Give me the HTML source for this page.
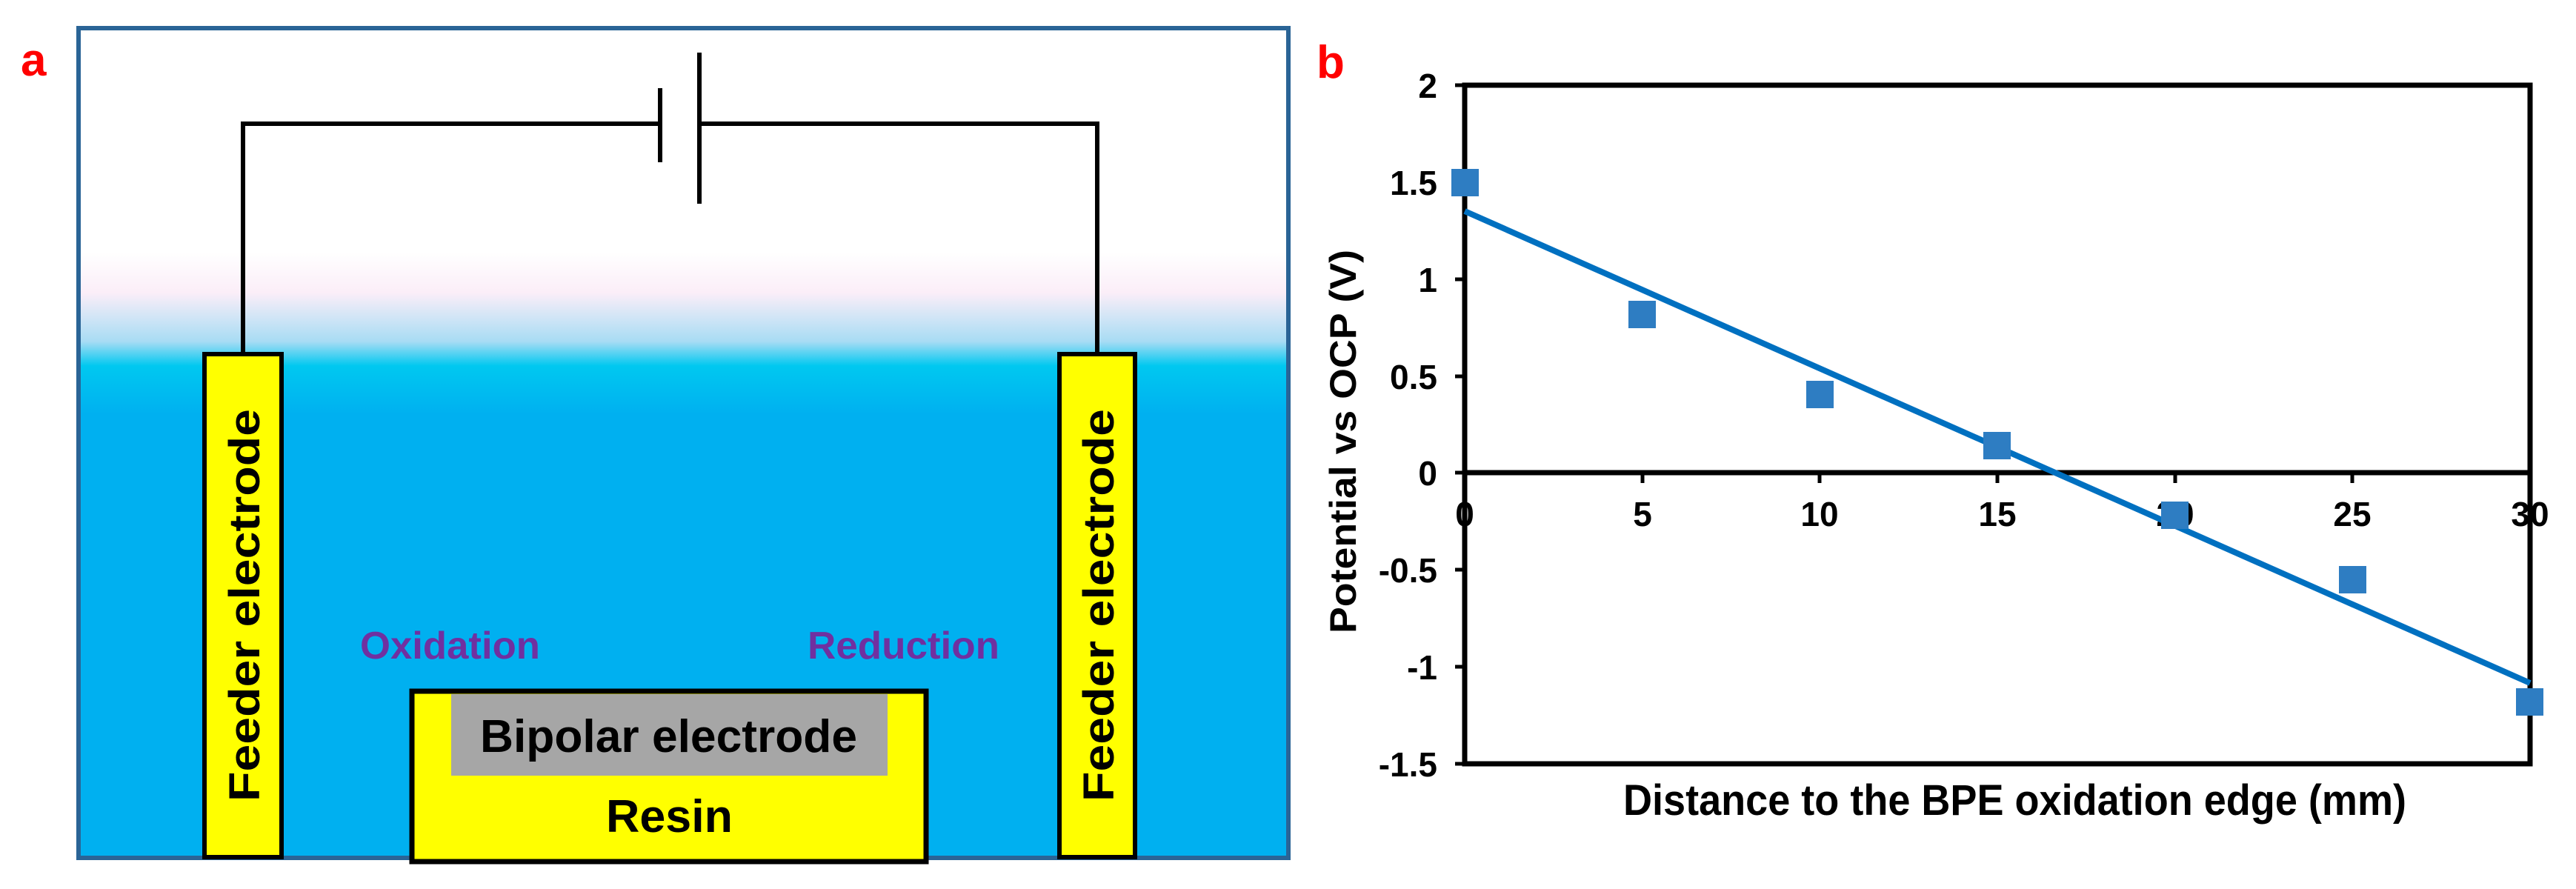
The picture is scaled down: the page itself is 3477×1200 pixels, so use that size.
<!DOCTYPE html>
<html><head><meta charset="utf-8"><style>
html,body{margin:0;padding:0;background:#fff;}
svg{display:block;}
text{font-family:"Liberation Sans",sans-serif;font-weight:bold;}
.n{font-family:"Liberation Sans Narrow","Liberation Sans",sans-serif;}
</style></head><body>
<svg width="3477" height="1200" viewBox="0 0 3477 1200" xmlns="http://www.w3.org/2000/svg">
<defs>
<linearGradient id="w" gradientUnits="userSpaceOnUse" x1="0" y1="340" x2="0" y2="560">
<stop offset="0" stop-color="#ffffff"/>
<stop offset="0.25" stop-color="#fbeef8"/>
<stop offset="0.55" stop-color="#a8dcf4"/>
<stop offset="0.7" stop-color="#00c8f0"/>
<stop offset="1" stop-color="#00b0f0"/>
</linearGradient>
</defs>
<!-- panel a -->
<rect x="106" y="38" width="1633" height="1120" fill="url(#w)" stroke="#2a6496" stroke-width="6"/>
<text x="28" y="102" font-size="62" fill="#ff0000">a</text>
<polyline points="328,478 328,167 891,167" fill="none" stroke="#000" stroke-width="6"/>
<polyline points="944,167 1481,167 1481,478" fill="none" stroke="#000" stroke-width="6"/>
<line x1="891" y1="119" x2="891" y2="219" stroke="#000" stroke-width="6"/>
<line x1="944" y1="71" x2="944" y2="275" stroke="#000" stroke-width="6"/>
<rect x="276" y="478" width="104" height="679" fill="#ffff00" stroke="#000" stroke-width="6"/>
<rect x="1430" y="478" width="102" height="679" fill="#ffff00" stroke="#000" stroke-width="6"/>
<text transform="translate(350,1082) rotate(-90)" font-size="58" textLength="530" lengthAdjust="spacingAndGlyphs" fill="#000">Feeder electrode</text>
<text transform="translate(1503,1082) rotate(-90)" font-size="58" textLength="530" lengthAdjust="spacingAndGlyphs" fill="#000">Feeder electrode</text>
<text class="n" x="486" y="889" font-size="52" textLength="243" lengthAdjust="spacingAndGlyphs" fill="#7030a0">Oxidation</text>
<text class="n" x="1090" y="889" font-size="52" textLength="259" lengthAdjust="spacingAndGlyphs" fill="#7030a0">Reduction</text>
<rect x="556" y="933" width="694" height="230" fill="#ffff00" stroke="#000" stroke-width="7"/>
<rect x="609" y="937" width="589" height="110" fill="#a6a6a6"/>
<text class="n" x="648" y="1015" font-size="62" textLength="509" lengthAdjust="spacingAndGlyphs" fill="#000">Bipolar electrode</text>
<text class="n" x="818" y="1123" font-size="62" textLength="171" lengthAdjust="spacingAndGlyphs" fill="#000">Resin</text>
<!-- panel b -->
<text x="1777" y="105" font-size="62" fill="#ff0000">b</text>
<g stroke="#000" stroke-width="7" fill="none">
<rect x="1977" y="115" width="1438" height="916"/>
<line x1="1977" y1="638" x2="3415" y2="638"/>
</g>
<g stroke="#000" stroke-width="5">
<line x1="1964" y1="115" x2="1977" y2="115"/>
<line x1="1964" y1="246" x2="1977" y2="246"/>
<line x1="1964" y1="377" x2="1977" y2="377"/>
<line x1="1964" y1="508" x2="1977" y2="508"/>
<line x1="1964" y1="638" x2="1977" y2="638"/>
<line x1="1964" y1="769" x2="1977" y2="769"/>
<line x1="1964" y1="900" x2="1977" y2="900"/>
<line x1="1964" y1="1031" x2="1977" y2="1031"/>
<line x1="2217" y1="638" x2="2217" y2="652"/>
<line x1="2456" y1="638" x2="2456" y2="652"/>
<line x1="2696" y1="638" x2="2696" y2="652"/>
<line x1="2936" y1="638" x2="2936" y2="652"/>
<line x1="3175" y1="638" x2="3175" y2="652"/>
</g>
<g font-size="46" text-anchor="end" fill="#000">
<text class="n" x="1940" y="132">2</text>
<text class="n" x="1940" y="263">1.5</text>
<text class="n" x="1940" y="394">1</text>
<text class="n" x="1940" y="525">0.5</text>
<text class="n" x="1940" y="655">0</text>
<text class="n" x="1940" y="786">-0.5</text>
<text class="n" x="1940" y="917">-1</text>
<text class="n" x="1940" y="1048">-1.5</text>
</g>
<g font-size="46" text-anchor="middle" fill="#000">
<text class="n" x="1977" y="710">0</text>
<text class="n" x="2217" y="710">5</text>
<text class="n" x="2456" y="710">10</text>
<text class="n" x="2696" y="710">15</text>
<text class="n" x="2936" y="710">20</text>
<text class="n" x="3175" y="710">25</text>
<text class="n" x="3415" y="710">30</text>
</g>
<line x1="1977" y1="285" x2="3415" y2="922" stroke="#0070c0" stroke-width="8"/>
<g fill="#2e7dc2">
<rect x="1959" y="228" width="37" height="37"/>
<rect x="2198" y="406" width="37" height="37"/>
<rect x="2438" y="514" width="37" height="37"/>
<rect x="2677" y="583" width="37" height="37"/>
<rect x="2917" y="677" width="37" height="37"/>
<rect x="3157" y="764" width="37" height="37"/>
<rect x="3396" y="929" width="37" height="37"/>
</g>
<text transform="translate(1830,855) rotate(-90)" font-size="50" textLength="518" lengthAdjust="spacingAndGlyphs" fill="#000">Potential vs OCP (V)</text>
<text class="n" x="2191" y="1100" font-size="58" textLength="1057" lengthAdjust="spacingAndGlyphs" fill="#000">Distance to the BPE oxidation edge (mm)</text>
</svg>
</body></html>
